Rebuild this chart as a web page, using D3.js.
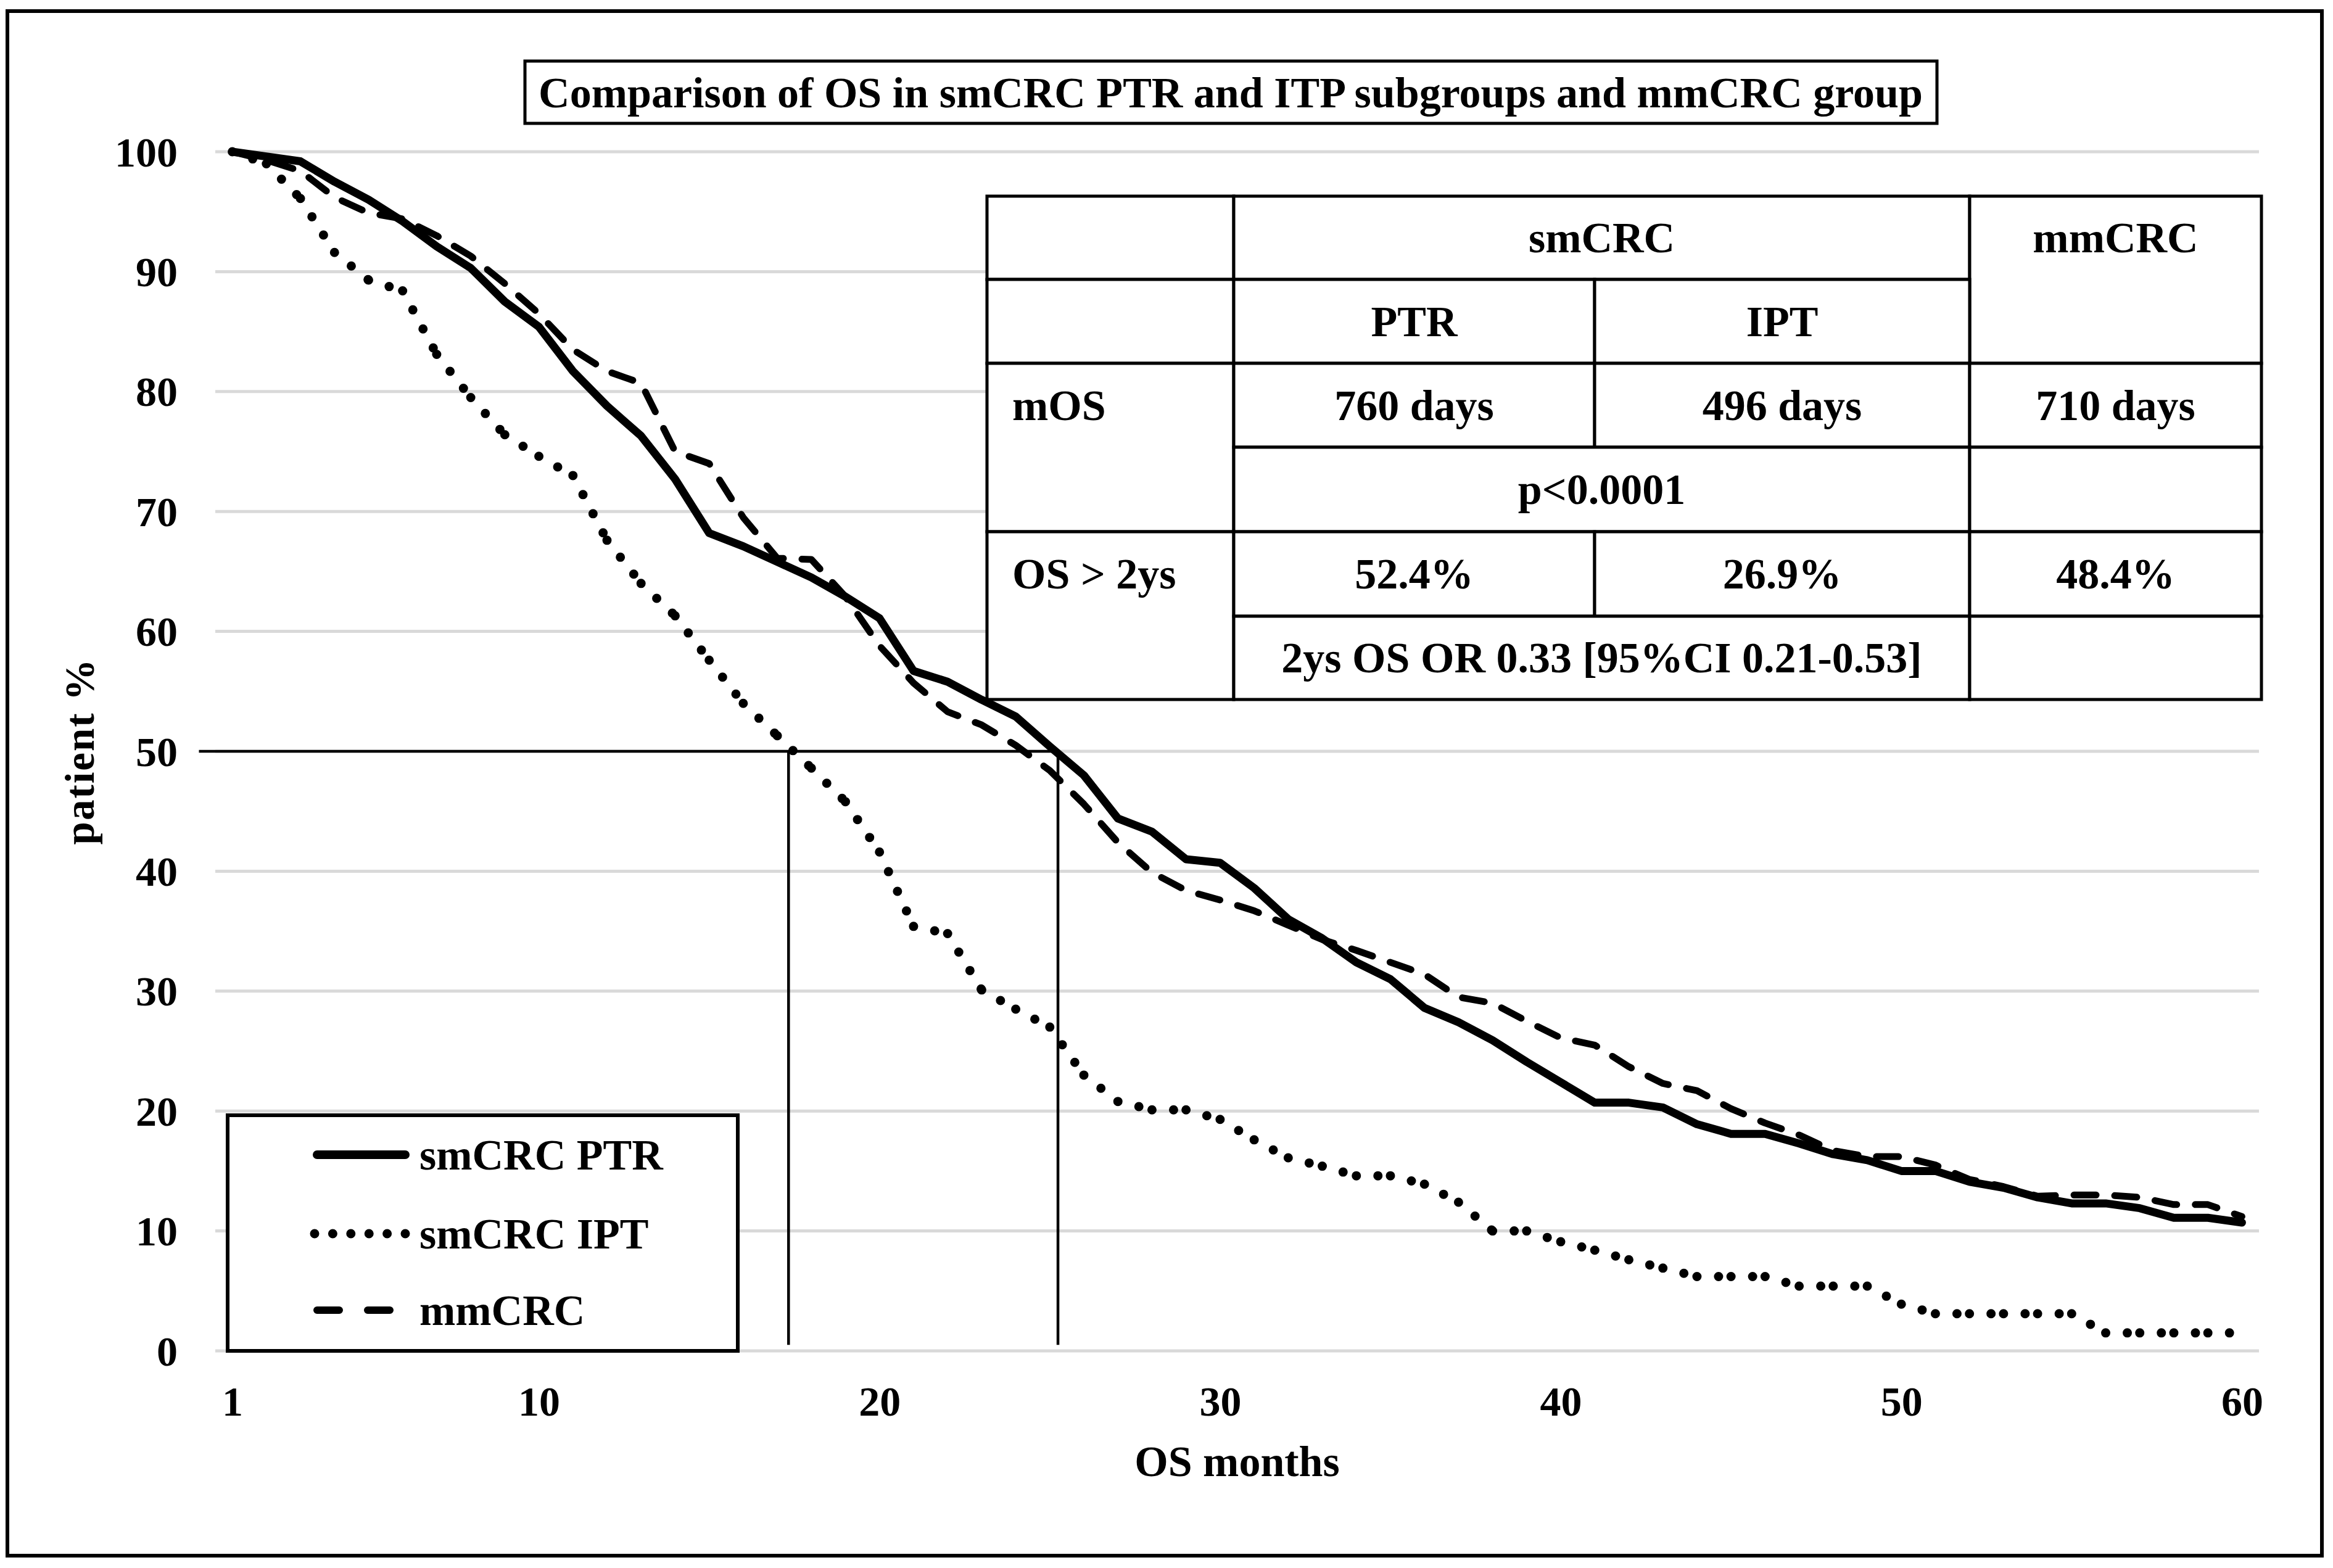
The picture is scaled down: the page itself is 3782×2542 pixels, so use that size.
<!DOCTYPE html>
<html>
<head>
<meta charset="utf-8">
<script src="https://cdn.jsdelivr.net/npm/d3@7"></script>
<style>
  html, body { margin: 0; padding: 0; background: #fff; }
  svg { display: block; }
  text { font-family: 'Liberation Serif', 'Times New Roman', serif; font-weight: bold; fill: #000; }
</style>
</head>
<body>
<svg id="vis" width="3782" height="2542"></svg>
<script>
const svg = d3.select('#vis');
const width = +svg.attr('width');
const height = +svg.attr('height');

// ---- data ----
const months = d3.range(1, 61);
const ptrValues = [
  100, 99.6, 99.2, 97.5, 96.0, 94.2, 92.1, 90.3, 87.5, 85.4,
  81.7, 78.8, 76.3, 72.7, 68.2, 67.1, 65.8, 64.5, 62.9, 61.1,
  56.7, 55.8, 54.3, 52.9, 50.4, 48.0, 44.4, 43.3, 41.0, 40.7,
  38.6, 36.0, 34.4, 32.4, 31.0, 28.6, 27.4, 25.9, 24.1, 22.4,
  20.7, 20.7, 20.3, 18.9, 18.1, 18.1, 17.3, 16.4, 15.9, 15.0,
  15.0, 14.1, 13.6, 12.8, 12.3, 12.3, 11.9, 11.1, 11.1, 10.7
];
const iptValues = [
  100, 99.0, 96.1, 91.6, 89.3, 88.4, 83.1, 79.5, 76.4, 74.6,
  73.0, 67.6, 64.0, 61.3, 57.6, 54.0, 51.3, 48.6, 45.8, 41.6,
  35.4, 34.8, 30.1, 28.5, 27.0, 23.0, 20.8, 20.1, 20.1, 19.3,
  17.6, 16.1, 15.4, 14.6, 14.6, 13.9, 12.4, 10.0, 10.0, 9.1,
  8.4, 7.6, 6.9, 6.2, 6.2, 6.2, 5.4, 5.4, 5.4, 3.9,
  3.1, 3.1, 3.1, 3.1, 3.1, 1.5, 1.5, 1.5, 1.5, 1.5
];
const mmcrcValues = [
  100, 99.3, 98.4, 96.2, 94.9, 94.4, 93.0, 91.3, 89.0, 86.5,
  83.5, 81.7, 80.7, 75.0, 74.0, 69.5, 66.1, 66.0, 62.9, 58.8,
  55.7, 53.3, 52.2, 50.5, 48.4, 45.6, 42.4, 39.9, 38.4, 37.6,
  36.7, 35.5, 34.3, 33.4, 32.4, 31.4, 29.5, 29.0, 27.5, 26.1,
  25.5, 23.7, 22.3, 21.7, 20.2, 19.0, 18.0, 16.7, 16.2, 16.2,
  15.5, 14.3, 13.7, 12.9, 13.0, 13.0, 12.8, 12.2, 12.2, 11.2
];
const seriesNames = ['smCRC PTR', 'smCRC IPT', 'mmCRC'];
const yTicks = [0, 10, 20, 30, 40, 50, 60, 70, 80, 90, 100];
const xTicks = [1, 10, 20, 30, 40, 50, 60];
// median marker lines (month, percent)
const medianLines = [
  { x1: 0.02, y1: 50, x2: 25.24, y2: 50 },
  { x1: 17.33, y1: 50, x2: 17.33, y2: 0.5 },
  { x1: 25.24, y1: 50, x2: 25.24, y2: 0.5 }
];
const titleText = 'Comparison of OS in smCRC PTR and ITP subgroups and mmCRC group';
const xTitle = 'OS months';
const yTitle = 'patient %';
// table cells: row, col, spans, text
const tableCells = [
  { r: 0, c: 0, text: '' },
  { r: 1, c: 0, text: '' },
  { r: 0, c: 1, cs: 2, text: 'smCRC' },
  { r: 0, c: 3, rs: 2, text: 'mmCRC' },
  { r: 1, c: 1, text: 'PTR' },
  { r: 1, c: 2, text: 'IPT' },
  { r: 2, c: 0, rs: 2, text: 'mOS', left: true },
  { r: 2, c: 1, text: '760 days' },
  { r: 2, c: 2, text: '496 days' },
  { r: 2, c: 3, text: '710 days' },
  { r: 3, c: 1, cs: 2, text: 'p<0.0001' },
  { r: 3, c: 3, text: '' },
  { r: 4, c: 0, rs: 2, text: 'OS > 2ys', left: true },
  { r: 4, c: 1, text: '52.4%' },
  { r: 4, c: 2, text: '26.9%' },
  { r: 4, c: 3, text: '48.4%' },
  { r: 5, c: 1, cs: 2, text: '2ys OS OR 0.33 [95%CI 0.21-0.53]' },
  { r: 5, c: 3, text: '' }
];

// ---- layout ----
const plot = { left: 349, right: 3662, top: 246, bottom: 2190 };
const fontSize = 70;

const x = d3.scaleLinear().domain([0.5, 60.5]).range([plot.left, plot.right]);
const y = d3.scaleLinear().domain([0, 100]).range([plot.bottom, plot.top]);

// outer frame
svg.append('rect')
  .attr('x', 12).attr('y', 18)
  .attr('width', 3752).attr('height', 2504)
  .attr('fill', '#fff')
  .attr('stroke', '#000')
  .attr('stroke-width', 6);

// gridlines
svg.append('g')
  .selectAll('line')
  .data(yTicks)
  .enter()
  .append('line')
  .attr('x1', plot.left)
  .attr('x2', plot.right)
  .attr('y1', d => y(d))
  .attr('y2', d => y(d))
  .attr('stroke', '#d9d9d9')
  .attr('stroke-width', 5);

// y axis labels
const yAxis = svg.append('g')
  .attr('transform', `translate(${plot.left},0)`)
  .call(d3.axisLeft(y).tickValues(yTicks).tickSize(0).tickPadding(61));
yAxis.select('.domain').remove();
yAxis.selectAll('text')
  .style('font-family', "'Liberation Serif', serif")
  .style('font-weight', 'bold')
  .style('font-size', '68px')
  .attr('dy', '0.34em');

// x axis labels
const xAxis = svg.append('g')
  .attr('transform', `translate(0,${plot.bottom})`)
  .call(d3.axisBottom(x).tickValues(xTicks).tickSize(0).tickPadding(57));
xAxis.select('.domain').remove();
xAxis.selectAll('text')
  .style('font-family', "'Liberation Serif', serif")
  .style('font-weight', 'bold')
  .style('font-size', '68px');

// axis titles
svg.append('text')
  .attr('x', (plot.left + plot.right) / 2)
  .attr('y', 2393)
  .attr('text-anchor', 'middle')
  .style('font-size', fontSize + 'px')
  .text(xTitle);

svg.append('text')
  .attr('transform', `translate(152,${(plot.top + plot.bottom) / 2}) rotate(-90)`)
  .attr('text-anchor', 'middle')
  .style('font-size', '67px')
  .style('letter-spacing', '2px')
  .text(yTitle);

// median marker lines
svg.append('g')
  .selectAll('line')
  .data(medianLines)
  .enter()
  .append('line')
  .attr('x1', d => x(d.x1))
  .attr('y1', d => y(d.y1))
  .attr('x2', d => x(d.x2))
  .attr('y2', d => y(d.y2))
  .attr('stroke', '#000')
  .attr('stroke-width', 4.5);

// series
const line = d3.line()
  .x(d => x(d.m))
  .y(d => y(d.v));

const ptrData = months.map((m, i) => ({ m, v: ptrValues[i] }));
const iptData = months.map((m, i) => ({ m, v: iptValues[i] }));
const mmData = months.map((m, i) => ({ m, v: mmcrcValues[i] }));

// mmCRC dashed
svg.append('path')
  .datum(mmData)
  .attr('d', line)
  .attr('fill', 'none')
  .attr('stroke', '#000')
  .attr('stroke-width', 11)
  .attr('stroke-dasharray', '36,30')
  .attr('stroke-linecap', 'round')
  .attr('stroke-linejoin', 'round');

// smCRC IPT dotted, pattern restarts every segment like the original
svg.append('g')
  .selectAll('path')
  .data(d3.pairs(iptData))
  .enter()
  .append('path')
  .attr('d', d => line(d))
  .attr('fill', 'none')
  .attr('stroke', '#000')
  .attr('stroke-width', 15)
  .attr('stroke-dasharray', '0,35')
  .attr('stroke-linecap', 'round');

// smCRC PTR solid
svg.append('path')
  .datum(ptrData)
  .attr('d', line)
  .attr('fill', 'none')
  .attr('stroke', '#000')
  .attr('stroke-width', 13)
  .attr('stroke-linecap', 'round')
  .attr('stroke-linejoin', 'round');

// title box
svg.append('rect')
  .attr('x', 851).attr('y', 99)
  .attr('width', 2289).attr('height', 101)
  .attr('fill', '#fff')
  .attr('stroke', '#000')
  .attr('stroke-width', 5);
svg.append('text')
  .attr('x', 1995)
  .attr('y', 150)
  .attr('dy', '0.34em')
  .attr('text-anchor', 'middle')
  .style('font-size', fontSize + 'px')
  .text(titleText);

// table
const colEdges = [1600, 2000, 2585, 3193, 3666];
const rowEdges = [318, 453, 589, 725, 862, 999, 1134];
const table = svg.append('g');
tableCells.forEach(cell => {
  const cs = cell.cs || 1;
  const rs = cell.rs || 1;
  const x0 = colEdges[cell.c];
  const x1 = colEdges[cell.c + cs];
  const y0 = rowEdges[cell.r];
  const y1 = rowEdges[cell.r + rs];
  table.append('rect')
    .attr('x', x0).attr('y', y0)
    .attr('width', x1 - x0).attr('height', y1 - y0)
    .attr('fill', '#fff')
    .attr('stroke', '#000')
    .attr('stroke-width', 5);
});
tableCells.filter(c => c.text).forEach(cell => {
  const cs = cell.cs || 1;
  const x0 = colEdges[cell.c];
  const x1 = colEdges[cell.c + cs];
  const cy = (rowEdges[cell.r] + rowEdges[cell.r + 1]) / 2;
  table.append('text')
    .attr('x', cell.left ? x0 + 41 : (x0 + x1) / 2)
    .attr('y', cy)
    .attr('dy', '0.34em')
    .attr('text-anchor', cell.left ? 'start' : 'middle')
    .style('font-size', fontSize + 'px')
    .text(cell.text);
});

// legend
const legend = svg.append('g');
legend.append('rect')
  .attr('x', 369).attr('y', 1808)
  .attr('width', 827).attr('height', 382)
  .attr('fill', '#fff')
  .attr('stroke', '#000')
  .attr('stroke-width', 6);

const legendRows = [1872, 2000, 2124];
const legendStyles = [
  { x1: 514, x2: 657, w: 14, dash: null },
  { x1: 510, x2: 657, w: 15, dash: '0,29.4' },
  { x1: 514, x2: 632, w: 12, dash: '36,46' }
];
seriesNames.forEach((name, i) => {
  const st = legendStyles[i];
  legend.append('line')
    .attr('x1', st.x1).attr('x2', st.x2)
    .attr('y1', legendRows[i]).attr('y2', legendRows[i])
    .attr('stroke', '#000')
    .attr('stroke-width', st.w)
    .attr('stroke-linecap', 'round')
    .attr('stroke-dasharray', st.dash);
  legend.append('text')
    .attr('x', 680)
    .attr('y', legendRows[i])
    .attr('dy', '0.34em')
    .style('font-size', fontSize + 'px')
    .text(name);
});
</script>
</body>
</html>
